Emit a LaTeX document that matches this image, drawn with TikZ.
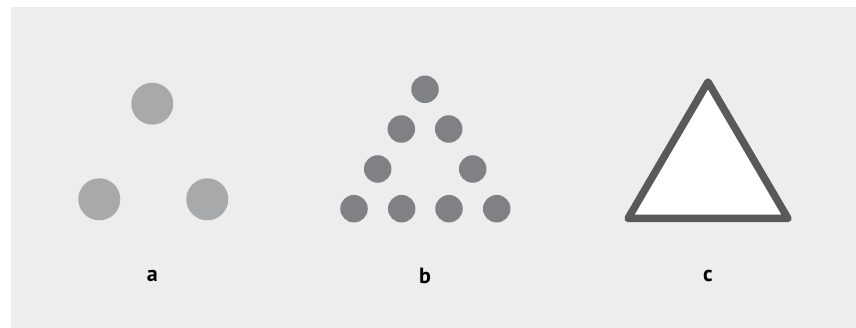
\documentclass[tikz,border=0pt]{standalone}
\usepackage{fontspec}
\setmainfont{PT Sans}
\usepackage{xcolor}
\definecolor{panelgray}{HTML}{EDEDED}
\definecolor{lightdot}{HTML}{A8A9AB}
\definecolor{darkdot}{HTML}{808184}
\definecolor{edgegray}{HTML}{58595B}
\tikzset{
  bigdot/.style={circle, fill=lightdot, minimum size=42pt, inner sep=0pt},
  smalldot/.style={circle, fill=darkdot, minimum size=27.5pt, inner sep=0pt},
  caption/.style={font=\fontsize{22pt}{26pt}\selectfont\bfseries, inner sep=0pt},
  outline/.style={draw=edgegray, line width=7.5pt, line join=round, fill=white}
}
\begin{document}
\begin{tikzpicture}[x=1pt, y=-1pt]
\useasboundingbox (0,0) rectangle (856,328);
\fill[panelgray] (11,7) rectangle (856,328);

% Panel a: three big dots
\node[bigdot] (atop) at (152.3,103.7) {};
\node[bigdot] (aleft) at (99.3,199.3) {};
\node[bigdot] (aright) at (207.3,199.3) {};
\node[caption] (labela) at (152.3,276) {a};

% Panel b: dots along a triangle
\node[smalldot] (b1) at (425,89.3) {};
\node[smalldot] (b21) at (401.3,129) {};
\node[smalldot] (b22) at (448.7,129) {};
\node[smalldot] (b31) at (377.7,169) {};
\node[smalldot] (b32) at (472.7,169) {};
\node[smalldot] (b41) at (354,208.7) {};
\node[smalldot] (b42) at (401.7,208.7) {};
\node[smalldot] (b43) at (449,208.7) {};
\node[smalldot] (b44) at (496.7,208.7) {};
\node[caption] (labelb) at (425,276) {b};

% Panel c: outlined triangle
\coordinate (capex) at (708,82);
\coordinate (cleft) at (628,218.5);
\coordinate (cright) at (788,218.5);
\draw[outline] (capex) -- (cright) -- (cleft) -- cycle;
\node[caption] (labelc) at (708,276) {c};

\end{tikzpicture}
\end{document}
